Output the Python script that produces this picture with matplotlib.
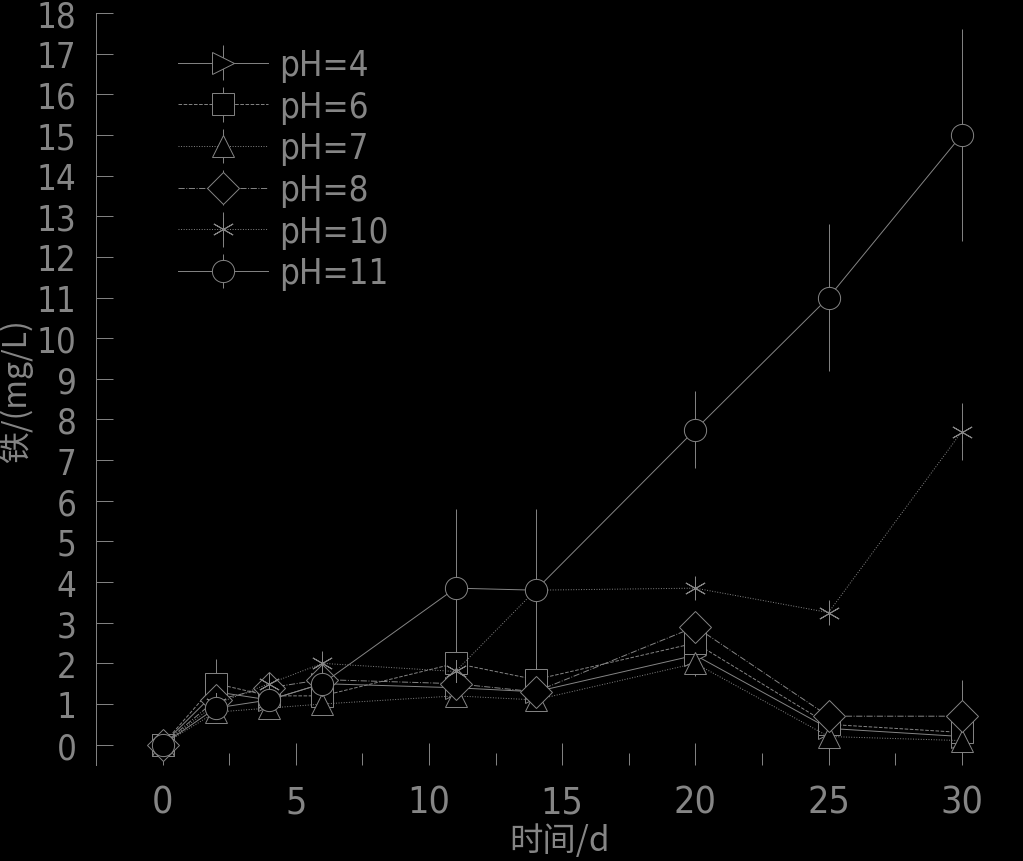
import matplotlib
matplotlib.use('Agg')
import matplotlib.pyplot as plt
from matplotlib import font_manager

# Data (time in days, concentration in mg/L)
days = [0, 2, 4, 6, 11, 14, 20, 25, 30]
ph4 = [0, 1.3, 1.1, 1.5, 1.4, 1.3, 2.2, 0.4, 0.2]
ph6 = [0, 1.5, 1.2, 1.2, 2.0, 1.6, 2.5, 0.5, 0.3]
ph7 = [0, 0.8, 0.9, 1.0, 1.2, 1.1, 2.0, 0.2, 0.1]
ph8 = [0, 1.1, 1.4, 1.6, 1.5, 1.3, 2.9, 0.7, 0.7]
ph10 = [0, 1.0, 1.5, 2.0, 1.8, 3.8, 3.85, 3.25, 7.7]
ph11 = [0, 0.9, 1.1, 1.5, 3.85, 3.8, 7.75, 11.0, 15.0]

err4 = [0, 0.3, 0.2, 0.2, 0.3, 0.3, 0.3, 0.2, 0.1]
err6 = [0, 0.6, 0.3, 0.3, 0.4, 0.4, 0.3, 0.2, 0.2]
err7 = [0, 0.2, 0.2, 0.2, 0.2, 0.2, 0.3, 0.2, 0.1]
err8 = [0, 0.3, 0.3, 0.3, 0.3, 0.3, 0.3, 0.3, 0.9]
err10 = [0, 0.2, 0.2, 0.3, 0.3, 0.3, 0.3, 0.3, 0.7]
err11 = [0, 0.2, 0.2, 0.2, 1.95, 2.0, 0.95, 1.8, 2.6]

labels = ['pH=4', 'pH=6', 'pH=7', 'pH=8', 'pH=10', 'pH=11']

ink = '#858585'
bg = 'black'

# look for a narrow face for the numbers, the original uses a condensed font
num_prop = None
for f in font_manager.fontManager.ttflist:
    low = f.fname.lower()
    if ('narrow' in low or 'condensed' in low) and 'bold' not in low \
            and 'oblique' not in low and 'italic' not in low:
        num_prop = font_manager.FontProperties(fname=f.fname)
        break
if num_prop is None:
    num_prop = font_manager.FontProperties(family='Liberation Sans')
cjk = ['Noto Sans CJK SC', 'DejaVu Sans']

fig = plt.figure(figsize=(10.23, 8.62), dpi=100, facecolor=bg)
ax = fig.add_axes([0.0938, 0.1114, 0.9062, 0.8724], facecolor=bg)

series = [
    (ph4, err4, '>', '-'),
    (ph6, err6, 's', '--'),
    (ph7, err7, '^', ':'),
    (ph8, err8, 'D', '-.'),
    (ph10, err10, (6, 2, 0), ':'),
    (ph11, err11, 'o', '-'),
]

for (vals, err, mk, ls), lab in zip(series, labels):
    ax.errorbar(days, vals, yerr=err, marker=mk, linestyle=ls, color=ink,
                lw=0.7, ms=16, mew=0.7, mfc=bg, mec=ink, ecolor=ink,
                elinewidth=0.7, capsize=0, label=lab)

ax.set_xlim(-2.5, 32.3)
ax.set_ylim(-0.5, 18)
ax.set_xticks([0, 5, 10, 15, 20, 25, 30])
ax.set_xticks([2.5, 7.5, 12.5, 17.5, 22.5, 27.5], minor=True)
ax.set_yticks(range(0, 19))

for s in ['top', 'right', 'bottom']:
    ax.spines[s].set_visible(False)
ax.spines['left'].set_color(ink)
ax.spines['left'].set_linewidth(0.7)

ax.tick_params(axis='both', which='both', direction='in', colors=ink,
               width=0.7)
ax.tick_params(axis='x', which='major', length=16, pad=14)
ax.tick_params(axis='x', which='minor', length=9)
ax.tick_params(axis='y', which='major', length=12, pad=14)
for t in ax.get_xticklabels():
    t.set_fontproperties(num_prop)
    t.set_fontsize(27)
    t.set_color(ink)
for t in ax.get_yticklabels():
    t.set_fontproperties(num_prop)
    t.set_fontsize(25)
    t.set_color(ink)

ax.set_xlabel('时间/d', family=cjk, fontsize=24, color=ink, labelpad=2)
ax.set_ylabel('铁/(mg/L)', family=cjk, fontsize=23, color=ink)
ax.yaxis.set_label_coords(-0.068, 0.5)

leg_prop = num_prop.copy()
leg_prop.set_size(25)
leg = ax.legend(loc='upper left', bbox_to_anchor=(0.055, 0.995), frameon=False,
                labelspacing=0.22, handlelength=2.6, handletextpad=0.3,
                prop=leg_prop)
for t in leg.get_texts():
    t.set_color(ink)

fig.savefig('out.png', dpi=100, facecolor=bg)
